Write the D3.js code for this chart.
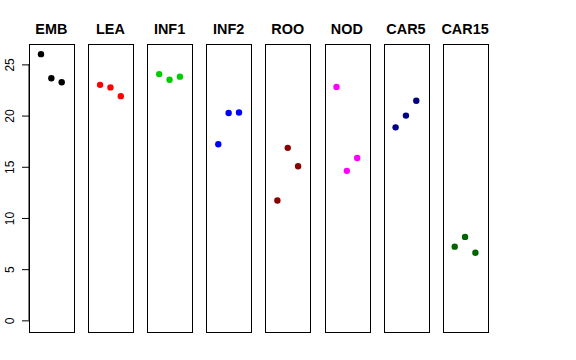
<!DOCTYPE html>
<html>
<head>
<meta charset="utf-8">
<script src="https://cdn.jsdelivr.net/npm/d3@7"></script>
<style>
  body { margin: 0; background: #fff; }
  svg { font-family: "Liberation Sans", Arial, sans-serif; }
</style>
</head>
<body>
<svg id="grafico"></svg>
<script>
const largura = 576;
const altura = 360;

// Dados
const grupos = ["EMB", "LEA", "INF1", "INF2", "ROO", "NOD", "CAR5", "CAR15"];
const cores = ["#000000", "#FF0000", "#00CD00", "#0000FF", "#8B0000", "#FF00FF", "#000080", "#006400"];
const valores = [
  [26.0, 23.65, 23.25],
  [23.0, 22.75, 21.9],
  [24.05, 23.5, 23.8],
  [17.2, 20.25, 20.3],
  [11.7, 16.85, 15.05],
  [22.8, 14.6, 15.85],
  [18.85, 20.0, 21.45],
  [7.2, 8.15, 6.6]
];
const ticksY = [0, 5, 10, 15, 20, 25];

const svg = d3.select("#grafico")
  .attr("width", largura)
  .attr("height", altura);

// Escala vertical comum (ylim 0..26 com extensão de 4%)
const y = d3.scaleLinear()
  .domain([-1.04, 27.04])
  .range([331, 43.5]);

// Posição de cada painel
const painel = d3.scaleBand()
  .domain(grupos)
  .range([29, 487.4])
  .paddingInner(0.2437)
  .paddingOuter(0);

// Eixo Y
const eixo = svg.append("g")
  .attr("transform", "translate(29,0)")
  .call(d3.axisLeft(y).tickValues(ticksY).tickSize(7));
eixo.select(".domain").attr("d", `M0,${y(0)}V${y(25)}`).attr("stroke", "#000");
eixo.selectAll(".tick line").attr("stroke", "#000");
eixo.selectAll(".tick text")
  .attr("font-size", 12)
  .attr("fill", "#000")
  .attr("text-anchor", "middle")
  .attr("transform", "rotate(-90)")
  .attr("x", 0)
  .attr("y", -19)
  .attr("dy", "0.35em");

grupos.forEach((g, i) => {
  const x0 = painel(g);
  const w = painel.bandwidth();
  const x = d3.scaleLinear().domain([-0.16, 4.16]).range([x0, x0 + w]);

  const p = svg.append("g");

  p.append("rect")
    .attr("x", Math.round(x0) + 0.5)
    .attr("y", Math.round(y.range()[1]) + 0.5)
    .attr("width", Math.round(w))
    .attr("height", Math.round(y.range()[0] - y.range()[1]))
    .attr("fill", "none")
    .attr("stroke", "#000")
    .attr("stroke-width", 1);

  p.selectAll("circle")
    .data(valores[i])
    .join("circle")
    .attr("cx", (d, j) => x(j + 1))
    .attr("cy", d => y(d))
    .attr("r", 3.2)
    .attr("fill", cores[i]);

  p.append("text")
    .attr("x", x0 + w / 2)
    .attr("y", 34)
    .attr("text-anchor", "middle")
    .attr("font-weight", "bold")
    .attr("font-size", 14.4)
    .text(g);
});
</script>
</body>
</html>
